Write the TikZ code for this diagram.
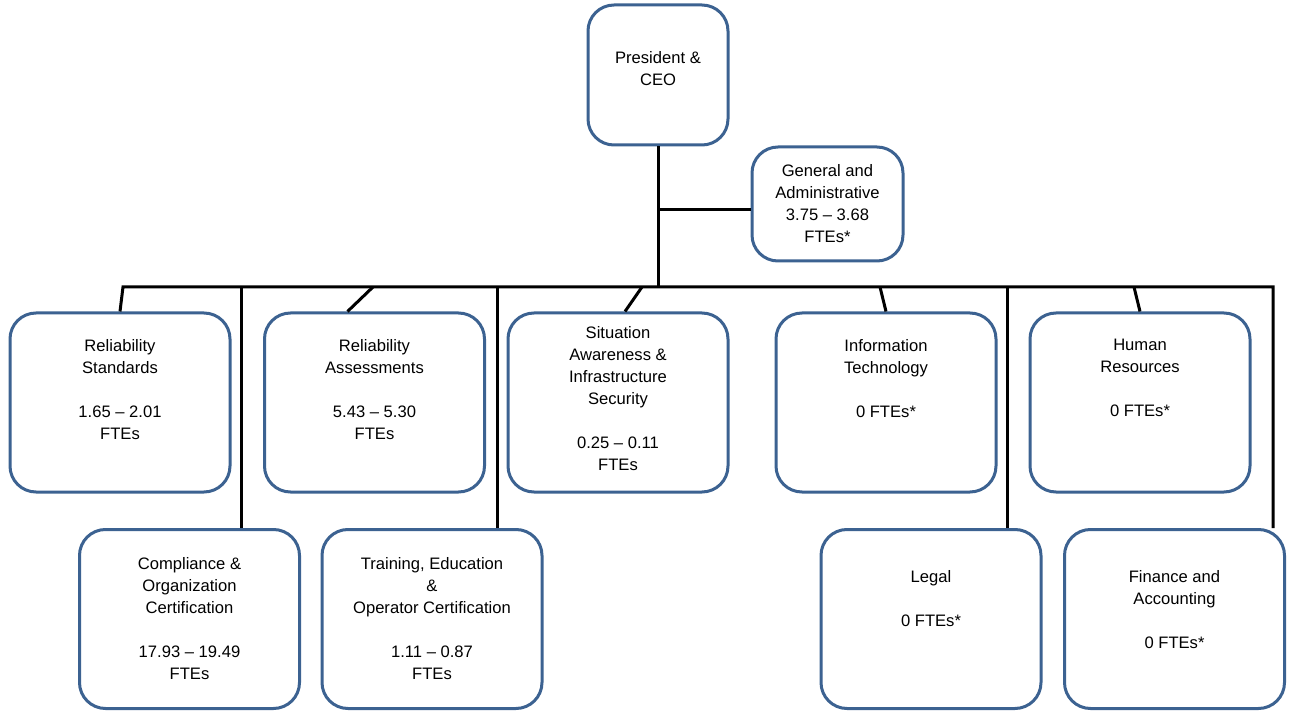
\documentclass[tikz,border=0pt]{standalone}
\usepackage{fontspec}
\setmainfont{Liberation Sans}
\usetikzlibrary{positioning}
\definecolor{boxline}{RGB}{60,98,145}
\tikzset{
	unit/.style={draw=boxline,line width=3pt,rounded corners=26pt,fill=white,inner sep=0pt},
	wide/.style={unit,minimum width=220pt,minimum height=179pt},
	caption/.style={align=center,anchor=north,inner sep=0pt,font=\fontsize{16.6}{22}\selectfont},
	link/.style={line width=3pt,black}
}

\begin{document}
\begin{tikzpicture}[x=1pt,y=-1pt]
	\useasboundingbox (0,0) rectangle (1294,711);
	% top
	\node[unit,minimum width=140pt,minimum height=140pt] (ceo) at (658,75) {};
	\node[unit,minimum width=151pt,minimum height=114pt] (ga) at (827.5,204) {};
	% first row
	\node[wide] (rs) at (120,402.5) {};
	\node[wide] (ra) at (374.5,402.5) {};
	\node[wide] (sa) at (618,402.5) {};
	\node[wide] (it) at (886,402.5) {};
	\node[wide] (hr) at (1140,402.5) {};
	% second row
	\node[wide] (co) at (189.5,619) {};
	\node[wide] (tr) at (432,619) {};
	\node[wide] (le) at (931,619) {};
	\node[wide] (fi) at (1174.5,619) {};
	% texts
	\node[caption] (ceo-t) at (658,51) {President \&\\CEO};
	\node[caption] (ga-t) at (827.5,164) {General and\\Administrative\\3.75 -- 3.68\\FTEs*};
	\node[caption] (rs-t) at (120,339) {Reliability\\Standards\\[22pt]1.65 -- 2.01\\FTEs};
	\node[caption] (ra-t) at (374.5,339) {Reliability\\Assessments\\[22pt]5.43 -- 5.30\\FTEs};
	\node[caption] (sa-t) at (618,326) {Situation\\Awareness \&\\Infrastructure\\Security\\[22pt]0.25 -- 0.11\\FTEs};
	\node[caption] (it-t) at (886,339) {Information\\Technology\\[22pt]0 FTEs*};
	\node[caption] (hr-t) at (1140,339) {Human\\Resources\\[22pt]0 FTEs*};
	\node[caption] (co-t) at (189.5,557) {Compliance \&\\Organization\\Certification\\[22pt]17.93 -- 19.49\\FTEs};
	\node[caption] (tr-t) at (432,557) {Training, Education\\\&\\Operator Certification\\[22pt]1.11 -- 0.87\\FTEs};
	\node[caption] (le-t) at (931,570) {Legal\\[22pt]0 FTEs*};
	\node[caption] (fi-t) at (1174.5,570) {Finance and\\Accounting\\[22pt]0 FTEs*};
	% bus
	\coordinate (hub) at (658,287);
	\coordinate (gaj) at (658,210);
	\coordinate (busL) at (123,287);
	\coordinate (busR) at (1273,287);
	\coordinate (tapRA) at (373,287);
	\coordinate (tapSA) at (642,287);
	\coordinate (tapIT) at (880,287);
	\coordinate (tapHR) at (1134,287);
	\coordinate (tapCO) at (241,287);
	\coordinate (tapTR) at (497,287);
	\coordinate (tapLE) at (1007,287);
	\draw[link] (ceo.south) -- (hub);
	\draw[link] (gaj) -- (gaj -| ga.west);
	\draw[link] (rs.north) -- (busL) -- (busR) -- (busR |- fi.north);
	\draw[link] (tapRA) -- ([xshift=-27pt]ra.north);
	\draw[link] (tapSA) -- ([xshift=7pt]sa.north);
	\draw[link] (tapIT) -- (it.north);
	\draw[link] (tapHR) -- (hr.north);
	\draw[link] (tapCO) -- (tapCO |- co.north);
	\draw[link] (tapTR) -- (tapTR |- tr.north);
	\draw[link] (tapLE) -- (tapLE |- le.north);
\end{tikzpicture}
\end{document}
